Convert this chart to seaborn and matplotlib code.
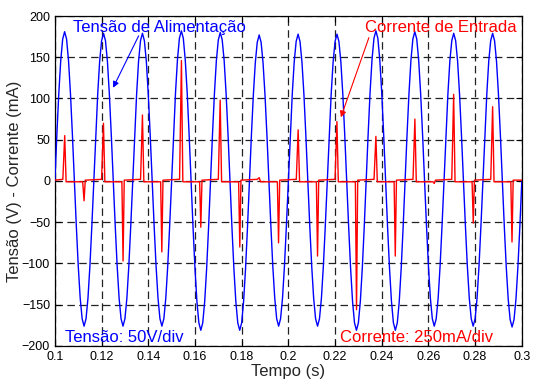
import numpy as np
import pandas as pd
import matplotlib
matplotlib.use("Agg")
import matplotlib.pyplot as plt
import seaborn as sns

# tensao de alimentacao (V), 20 amostras por ciclo de 60 Hz, de 0.1 s a 0.3 s
tensao_V = [
    0, 56, 106, 146, 172, 181, 172, 146, 106, 56, 0, -54, -103, -142, -167, -176, -167, -142, -103, -54,
    0, 55, 105, 145, 170, 179, 170, 145, 105, 55, 0, -54, -103, -142, -167, -176, -167, -142, -103, -54,
    0, 55, 105, 145, 170, 179, 170, 145, 105, 55, 0, -54, -103, -142, -167, -176, -167, -142, -103, -54,
    0, 56, 107, 147, 173, 182, 173, 147, 107, 56, 0, -56, -106, -146, -172, -181, -172, -146, -106, -56,
    0, 56, 106, 146, 171, 180, 171, 146, 106, 56, 0, -56, -106, -146, -172, -181, -172, -146, -106, -56,
    0, 55, 104, 143, 168, 177, 168, 143, 104, 55, 0, -54, -103, -142, -167, -176, -167, -142, -103, -54,
    0, 55, 105, 144, 169, 178, 169, 144, 105, 55, 0, -54, -103, -142, -167, -176, -167, -142, -103, -54,
    0, 55, 105, 144, 169, 178, 169, 144, 105, 55, 0, -56, -106, -146, -172, -181, -172, -146, -106, -56,
    0, 56, 107, 147, 173, 182, 173, 147, 107, 56, 0, -56, -106, -146, -172, -181, -172, -146, -106, -56,
    0, 56, 106, 146, 172, 181, 172, 146, 106, 56, 0, -54, -103, -142, -167, -176, -167, -142, -103, -54,
    0, 55, 105, 145, 170, 179, 170, 145, 105, 55, 0, -54, -103, -142, -167, -176, -167, -142, -103, -54,
    0, 55, 105, 145, 170, 179, 170, 145, 105, 55, 0, -55, -104, -143, -168, -177, -168, -143, -104, -55,
    0,
]
tempo_V = np.linspace(0.1, 0.3, len(tensao_V))

# corrente de entrada (mA)
tempo_I = [
    0.1000, 0.1034, 0.1042, 0.1048, 0.1119, 0.1125, 0.1130,
    0.1200, 0.1208, 0.1214, 0.1287, 0.1292, 0.1297,
    0.1367, 0.1375, 0.1381, 0.1453, 0.1458, 0.1463,
    0.1534, 0.1542, 0.1548, 0.1620, 0.1625, 0.1630,
    0.1700, 0.1708, 0.1714, 0.1787, 0.1792, 0.1797,
    0.1867, 0.1875, 0.1881, 0.1953, 0.1958, 0.1963,
    0.2034, 0.2042, 0.2048, 0.2120, 0.2125, 0.2130,
    0.2200, 0.2208, 0.2214, 0.2287, 0.2292, 0.2297,
    0.2367, 0.2375, 0.2381, 0.2453, 0.2458, 0.2463,
    0.2534, 0.2542, 0.2548, 0.2620, 0.2625, 0.2630,
    0.2700, 0.2708, 0.2714, 0.2787, 0.2792, 0.2797,
    0.2867, 0.2875, 0.2881, 0.2953, 0.2958, 0.2963,
    0.3000,
]
corrente_mA = [
    1, 2, 55, -1, -1, -24, 1,
    2, 70, -1, -1, -97, 1,
    2, 80, -1, -1, -86, 1,
    2, 146, -1, -1, -56, 1,
    2, 98, -1, -1, -80, 1,
    2, 4, -1, -1, -75, 1,
    2, 62, -1, -1, -91, 1,
    2, 72, -1, -1, -156, 1,
    2, 54, -1, -1, -91, 1,
    2, 75, -1, -1, -3, 1,
    2, 105, -1, -1, -51, 1,
    2, 90, -1, -1, -74, 1,
    1,
]

x_ticks = [0.1, 0.12, 0.14, 0.16, 0.18, 0.2, 0.22, 0.24, 0.26, 0.28, 0.3]
x_labels = ["0.1", "0.12", "0.14", "0.16", "0.18", "0.2", "0.22", "0.24", "0.26", "0.28", "0.3"]
y_ticks = [-200, -150, -100, -50, 0, 50, 100, 150, 200]

df_v = pd.DataFrame({"t": tempo_V, "v": tensao_V})
df_i = pd.DataFrame({"t": tempo_I, "i": corrente_mA})

sns.set_style("ticks")
plt.rcParams["font.family"] = ["Liberation Sans", "DejaVu Sans"]

fig = plt.figure(figsize=(5.33, 3.81), dpi=100)
ax = fig.add_axes([0.103, 0.092, 0.876, 0.866])

sns.lineplot(data=df_v, x="t", y="v", color="blue", lw=1.0, estimator=None, sort=False, ax=ax, zorder=3)
sns.lineplot(data=df_i, x="t", y="i", color="red", lw=1.0, estimator=None, sort=False, ax=ax, zorder=4)

ax.set_xlim(0.1, 0.3)
ax.set_ylim(-200, 200)
ax.set_xticks(x_ticks)
ax.set_xticklabels(x_labels)
ax.set_yticks(y_ticks)
ax.tick_params(direction="in", top=True, right=True, labelsize=9, length=4, width=0.8, colors="black")
for s in ax.spines.values():
    s.set_color("black")
    s.set_linewidth(0.9)
ax.grid(True, color="#222222", linestyle=(0, (6, 3.5)), lw=0.9, zorder=1)
ax.set_axisbelow(True)

ax.set_xlabel("Tempo (s)", fontsize=12, labelpad=1)
ax.set_ylabel("Tensão (V) - Corrente (mA)", fontsize=12, labelpad=0)

ax.text(0.1077, 180, "Tensão de Alimentação", color="blue", fontsize=12, va="baseline", zorder=6)
ax.annotate("", xy=(0.1244, 110), xytext=(0.1364, 179),
            arrowprops=dict(arrowstyle="-|>", color="blue", lw=0.8, mutation_scale=9), zorder=6)
ax.text(0.2328, 180, "Corrente de Entrada", color="red", fontsize=12, va="baseline", zorder=6)
ax.annotate("", xy=(0.2221, 74), xytext=(0.2349, 177),
            arrowprops=dict(arrowstyle="-|>", color="red", lw=0.8, mutation_scale=9), zorder=6)
ax.text(0.1043, -195, "Tensão: 50V/div", color="blue", fontsize=12, va="baseline", zorder=6)
ax.text(0.2221, -195, "Corrente: 250mA/div", color="red", fontsize=12, va="baseline", zorder=6)

fig.savefig("out.png", dpi=100)
